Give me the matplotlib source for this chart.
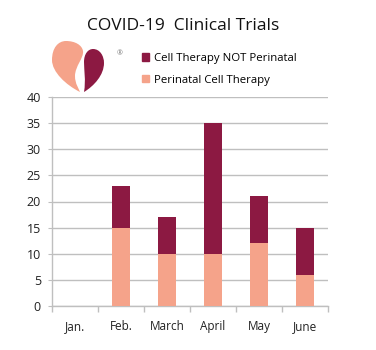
import matplotlib
matplotlib.use("Agg")
import matplotlib.pyplot as plt
from matplotlib.path import Path
from matplotlib.patches import PathPatch, Patch
import numpy as np

plt.rcParams['font.family'] = ['Open Sans', 'DejaVu Sans']

months = ["Jan.", "Feb.", "March", "April", "May", "June"]
perinatal = [0, 15, 10, 10, 12, 6]
not_perinatal = [0, 8, 7, 25, 9, 9]
yticks = [0, 5, 10, 15, 20, 25, 30, 35, 40]

MAROON = "#8C1942"
SALMON = "#F5A38A"
GRID = "#BFBFBF"

W, H = 376, 350
fig = plt.figure(figsize=(W / 100, H / 100), dpi=100)

ax = fig.add_axes([52 / W, (H - 306) / H, 276 / W, (306 - 97) / H])
x = np.arange(len(months))
b1 = ax.bar(x, perinatal, width=0.4, color=SALMON, zorder=3)
b2 = ax.bar(x, not_perinatal, width=0.4, bottom=perinatal, color=MAROON, zorder=3)

ax.set_xlim(-0.5, len(months) - 0.5)
ax.set_ylim(0, 40)
ax.set_yticks(yticks)
ax.set_xticks(x)
ax.set_xticklabels(months)
ax.set_xticks(np.arange(len(months) + 1) - 0.5, minor=True)
ax.tick_params(axis='x', which='major', length=0, pad=10, labelsize=8.5, colors='#222222')
ax.tick_params(axis='x', which='minor', length=4, color=GRID, width=1)
ax.tick_params(axis='y', length=3, color=GRID, pad=5, labelsize=9, labelcolor='#222222')
ax.yaxis.grid(True, color=GRID, linewidth=1, zorder=0)
ax.set_axisbelow(True)
for s in ['top', 'right']:
    ax.spines[s].set_visible(False)
for s in ['left', 'bottom']:
    ax.spines[s].set_color(GRID)
    ax.spines[s].set_linewidth(1)

# overlay for title, logo, legend
ov = fig.add_axes([0, 0, 1, 1], zorder=5)
ov.set_xlim(0, W)
ov.set_ylim(H, 0)
ov.axis('off')
ov.patch.set_alpha(0)

ov.text(183, 26, "COVID-19  Clinical Trials", fontsize=12.5, ha='center', va='center', color='#111111')

# logo
M, C, Z = Path.MOVETO, Path.CURVE4, Path.CLOSEPOLY
salmon_verts = [(80, 92),
                (66, 85), (52, 72), (52, 60),
                (52, 48), (58, 41), (66, 41),
                (75, 41), (82, 45), (83, 51),
                (84, 58), (75, 66), (75, 76),
                (75, 84), (79, 89), (80, 92),
                (80, 92)]
salmon_codes = [M] + [C] * 15 + [Z]
ov.add_patch(PathPatch(Path(salmon_verts, salmon_codes), facecolor=SALMON, edgecolor='none'))
maroon_verts = [(84, 92),
                (86, 80), (84, 70), (84, 62),
                (84, 54), (88, 49), (93, 49),
                (100, 49), (104, 56), (104, 63),
                (104, 75), (94, 86), (84, 92),
                (84, 92)]
maroon_codes = [M] + [C] * 12 + [Z]
ov.add_patch(PathPatch(Path(maroon_verts, maroon_codes), facecolor=MAROON, edgecolor='none'))
ov.text(120, 54, "®", fontsize=5, ha='center', va='center', color='#777777')

handles = [Patch(color=MAROON), Patch(color=SALMON)]
labels = ["Cell Therapy NOT Perinatal", "Perinatal Cell Therapy"]
ov.legend(handles, labels, loc='upper left', bbox_to_anchor=(142 / W, 1 - 53 / H),
          bbox_transform=fig.transFigure, frameon=False, fontsize=8.2,
          handlelength=0.6, handleheight=0.6, handletextpad=0.45, labelspacing=0.95,
          borderaxespad=0, borderpad=0)

fig.savefig("out.png", dpi=100, facecolor='white')
